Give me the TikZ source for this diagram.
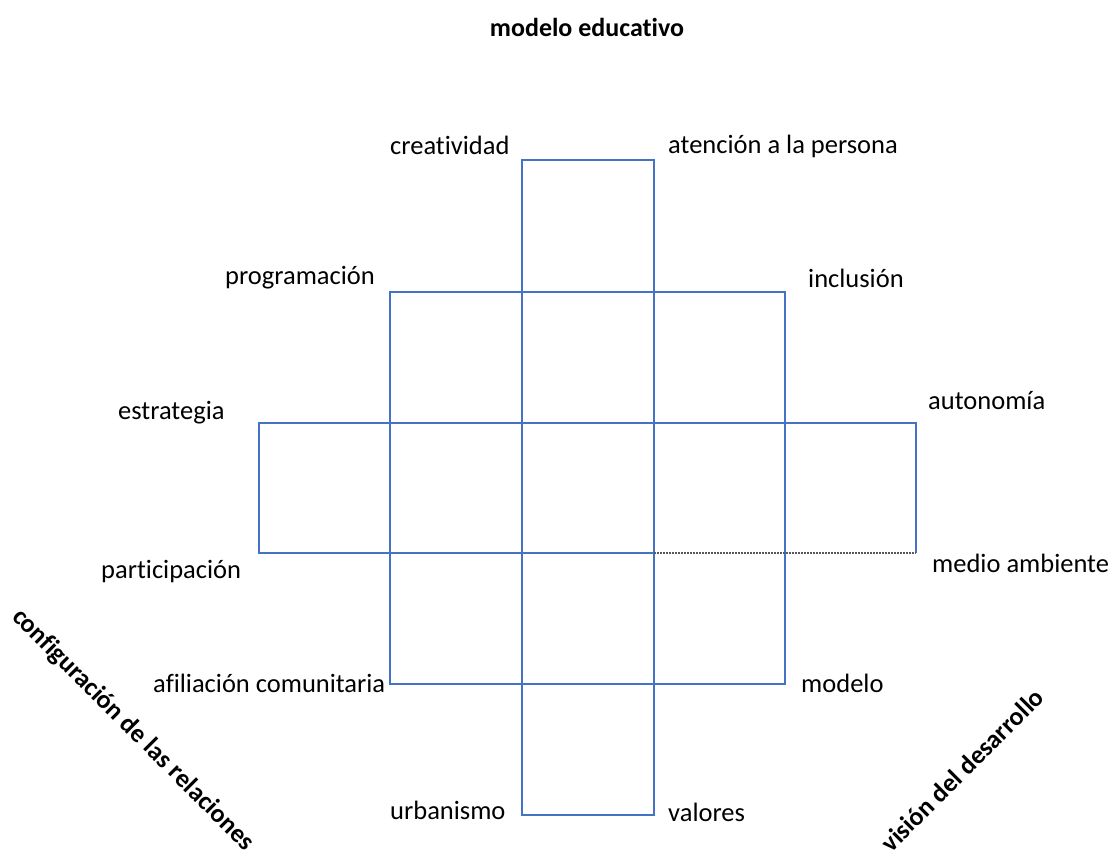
\documentclass[tikz,border=0pt]{standalone}
\usepackage{fontspec}
\setmainfont{Carlito}[Ligatures=NoCommon]
\usepackage{xcolor}
\usetikzlibrary{positioning}
\definecolor{officeblue}{HTML}{4472C4}

\begin{document}
\begin{tikzpicture}[x=1pt, y=-1pt,
box/.style={draw=officeblue, line width=2pt},
label/.style={anchor=west, inner sep=0pt, font=\fontsize{26.5}{30}\selectfont},
axis/.style={inner sep=0pt, font=\fontsize{26}{30}\selectfont\bfseries}
]
\useasboundingbox (0,0) rectangle (1115,855);

% Cross of boxes
\draw[box] (522,160) rectangle (654,815);
\draw[box] (390,292) rectangle (785,684);
\draw[box] (654,553) -- (259,553) -- (259,423) -- (916,423) -- (916,553);
\draw[gray!70!black, line width=2pt, densely dotted] (654,553) -- (916,553);

% Title
\node[axis] (title) at (587,27) {modelo educativo};

% Corner labels
\node[label] (creatividad) at (390,145) {creatividad};
\node[label] (atencion) at (668,146) {atención a la persona};
\node[label] (programacion) at (225,278) {programación};
\node[label] (inclusion) at (808,278) {inclusión};
\node[label] (estrategia) at (118,413) {estrategia};
\node[label] (autonomia) at (928,401) {autonomía};
\node[label] (participacion) at (101,572) {participación};
\node[label] (medio) at (932,563) {medio ambiente};
\node[label] (afiliacion) at (153,683) {afiliación comunitaria};
\node[label] (modelo) at (801,683) {modelo};
\node[label] (urbanismo) at (390,810) {urbanismo};
\node[label] (valores) at (668,812) {valores};

% Diagonal axes
\node[axis, rotate=-45] (relaciones) at (133,730) {configuración de las relaciones};
\node[axis, rotate=45] (desarrollo) at (962,770) {visión del desarrollo};

\end{tikzpicture}
\end{document}
